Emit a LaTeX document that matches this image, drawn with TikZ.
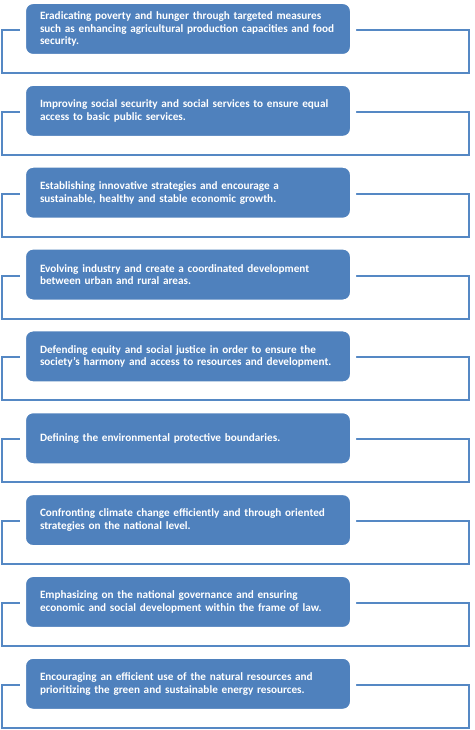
\documentclass[tikz,border=0pt]{standalone}
\usepackage{fontspec}
\setmainfont{Carlito}
\usetikzlibrary{calc,backgrounds}
\definecolor{boxblue}{HTML}{4F81BD}
\definecolor{lineblue}{HTML}{5588C4}
\begin{document}
\begin{tikzpicture}[x=1pt,y=-1pt,
  stepbox/.style={draw=white, line width=6pt, fill=boxblue, rounded corners=10pt,
    minimum width=330pt, minimum height=56pt, text width=296pt, inner xsep=17pt,
    inner ysep=0pt, align=left, text=white,
    font=\fontsize{11.2}{12.7}\selectfont\bfseries},
  frame/.style={draw=lineblue, line width=2pt}]
\useasboundingbox (0,0) rectangle (474,730);
\node[stepbox] (b1) at (188,29.0) {Eradicating poverty and hunger through targeted measures\\such as enhancing agricultural production capacities and food\\security.};
\node[stepbox] (b2) at (188,110.85) {Improving social security and social services to ensure equal\\access to basic public services.};
\node[stepbox] (b3) at (188,192.7) {Establishing innovative strategies and encourage a\\sustainable, healthy and stable economic growth.};
\node[stepbox] (b4) at (188,274.55) {Evolving industry and create a coordinated development\\between urban and rural areas.};
\node[stepbox] (b5) at (188,356.4) {Defending equity and social justice in order to ensure the\\society’s harmony and access to resources and development.};
\node[stepbox] (b6) at (188,438.25) {Defining the environmental protective boundaries.};
\node[stepbox] (b7) at (188,520.1) {Confronting climate change efficiently and through oriented\\strategies on the national level.};
\node[stepbox] (b8) at (188,601.95) {Emphasizing on the national governance and ensuring\\economic and social development within the frame of law.};
\node[stepbox] (b9) at (188,683.8) {Encouraging an efficient use of the natural resources and\\prioritizing the green and sustainable energy resources.};
\begin{scope}[on background layer]
\foreach \i in {1,...,9}{
  \draw[frame] ($(b\i.center)+(-186,1)$) rectangle ($(b\i.center)+(281,44)$);
}
\end{scope}
\end{tikzpicture}
\end{document}
